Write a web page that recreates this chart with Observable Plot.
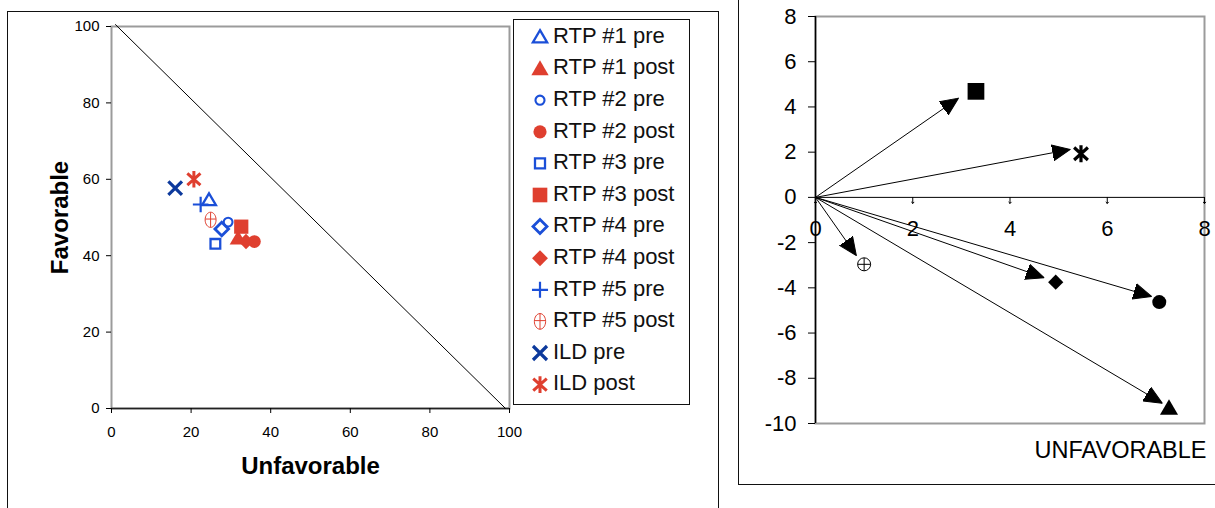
<!DOCTYPE html>
<html><head><meta charset="utf-8">
<script src="https://cdn.jsdelivr.net/npm/d3@7"></script>
<script src="https://cdn.jsdelivr.net/npm/@observablehq/plot@0.6"></script>
<style>
body{margin:0;background:#fff;width:1215px;height:508px;overflow:hidden;position:relative;font-family:"Liberation Sans",Arial,sans-serif;}
.panel{position:absolute;border:1px solid #111;box-sizing:border-box;}
#left{left:7px;top:11px;width:712px;height:520px;}
#right{left:738px;top:-5px;width:490px;height:490px;}
.abs{position:absolute;}
</style></head><body>
<div class="panel" id="left"></div><div class="panel" id="right"></div>
<div id="leftPlot" class="abs" style="left:0;top:0"></div>
<div id="rightPlot" class="abs" style="left:740px;top:0"></div>
<div id="legend" class="abs" style="left:513px;top:19px"></div>
<script>
// ---------- data: left chart (Favorable vs Unfavorable, %) ----------
const seriesNames = ["RTP #1 pre","RTP #1 post","RTP #2 pre","RTP #2 post","RTP #3 pre","RTP #3 post",
                     "RTP #4 pre","RTP #4 post","RTP #5 pre","RTP #5 post","ILD pre","ILD post"];
const unfavorable = [24.5, 31.8, 29.3, 35.9, 26.1, 32.6, 27.7, 33.8, 22.4, 24.9, 16.0, 20.7];
const favorable   = [54.6, 44.6, 48.8, 43.7, 43.1, 47.6, 47.0, 43.7, 53.4, 49.4, 57.7, 60.0];
const axisTicks = [0, 20, 40, 60, 80, 100];
const refLineUnfav = [1, 99];
const refLineFav = [100.5, 0];
const xLabelLeft = "Unfavorable";
const yLabelLeft = "Favorable";

// ---------- data: right chart (shift vectors) ----------
const shiftNames = ["RTP #1","RTP #2","RTP #3","RTP #4","RTP #5","ILD"];
const shiftUnfav = [7.27, 7.07, 3.30, 4.94, 1.00, 5.46];
const shiftFav   = [-9.31, -4.63, 4.69, -3.75, -2.96, 1.93];
const arrowTipUnfav = [7.13, 6.91, 2.94, 4.70, 0.84, 5.24];
const arrowTipFav   = [-9.10, -4.38, 4.39, -3.55, -2.57, 2.12];
const shiftTicksX = [0, 2, 4, 6, 8];
const shiftTicksY = [8, 6, 4, 2, 0, -2, -4, -6, -8, -10];
const xLabelRight = "UNFAVORABLE";

// ---------- symbols ----------
const K = 0.5523;
const rad = s => Math.sqrt(s / Math.PI);
function ell(c, rx, ry) {
  c.moveTo(rx, 0);
  c.bezierCurveTo(rx, ry*K, rx*K, ry, 0, ry);
  c.bezierCurveTo(-rx*K, ry, -rx, ry*K, -rx, 0);
  c.bezierCurveTo(-rx, -ry*K, -rx*K, -ry, 0, -ry);
  c.bezierCurveTo(rx*K, -ry, rx, -ry*K, rx, 0);
  c.closePath();
}
const SYM = {
  triangle: {draw(c, s) { const r = rad(s); c.moveTo(0, -r); c.lineTo(r*1.05, r*0.8); c.lineTo(-r*1.05, r*0.8); c.closePath(); }},
  square:   {draw(c, s) { const r = rad(s)*0.9; c.rect(-r, -r, 2*r, 2*r); }},
  circle:   {draw(c, s) { const r = rad(s); c.moveTo(r, 0); c.arc(0, 0, r, 0, 2*Math.PI); c.closePath(); }},
  diamond:  {draw(c, s) { const r = rad(s); c.moveTo(0, -r); c.lineTo(r, 0); c.lineTo(0, r); c.lineTo(-r, 0); c.closePath(); }},
  plus:     {draw(c, s) { const r = rad(s); c.moveTo(-r, 0); c.lineTo(r, 0); c.moveTo(0, -r); c.lineTo(0, r); }},
  times:    {draw(c, s) { const r = rad(s)*0.85; c.moveTo(-r, -r); c.lineTo(r, r); c.moveTo(-r, r); c.lineTo(r, -r); }},
  asterisk: {draw(c, s) { const r = rad(s); c.moveTo(0, -r); c.lineTo(0, r); c.moveTo(-0.8*r, -0.72*r); c.lineTo(0.8*r, 0.72*r); c.moveTo(-0.8*r, 0.72*r); c.lineTo(0.8*r, -0.72*r); }},
  ellCross: {draw(c, s) { const r = rad(s), rx = r*0.72; ell(c, rx, r); c.moveTo(0, -r); c.lineTo(0, r); c.moveTo(-rx, -0.1*r); c.lineTo(rx, -0.1*r); }},
  circCross:{draw(c, s) { const r = rad(s); c.moveTo(r, 0); c.arc(0, 0, r, 0, 2*Math.PI); c.closePath(); c.moveTo(-r, 0); c.lineTo(r, 0); c.moveTo(0, -r); c.lineTo(0, r); }}
};
const BLUE = "#1b4fd8", RED = "#df3f2f", NAVY = "#0c399c";
const styles = [
  {sym: SYM.triangle, fill: "none", stroke: BLUE, sw: 2.3, r: 6.6},
  {sym: SYM.triangle, fill: RED, stroke: "none", sw: 0, r: 8},
  {sym: SYM.circle, fill: "none", stroke: BLUE, sw: 2.1, r: 4.4},
  {sym: SYM.circle, fill: RED, stroke: "none", sw: 0, r: 6.4},
  {sym: SYM.square, fill: "none", stroke: BLUE, sw: 2.3, r: 5.4},
  {sym: SYM.square, fill: RED, stroke: "none", sw: 0, r: 7.9},
  {sym: SYM.diamond, fill: "none", stroke: BLUE, sw: 2.8, r: 6.8},
  {sym: SYM.diamond, fill: RED, stroke: "none", sw: 0, r: 7.7},
  {sym: SYM.plus, fill: "none", stroke: BLUE, sw: 2.2, r: 7.8},
  {sym: SYM.ellCross, fill: "none", stroke: RED, sw: 1, r: 7.6},
  {sym: SYM.times, fill: "none", stroke: NAVY, sw: 3.2, r: 8},
  {sym: SYM.asterisk, fill: "none", stroke: RED, sw: 3, r: 8.2}
];
const shiftStyles = [
  {sym: SYM.triangle, fill: "black", stroke: "none", sw: 0, r: 8.6},
  {sym: SYM.circle, fill: "black", stroke: "none", sw: 0, r: 7},
  {sym: SYM.square, fill: "black", stroke: "none", sw: 0, r: 9.3},
  {sym: SYM.diamond, fill: "black", stroke: "none", sw: 0, r: 7.6},
  {sym: SYM.circCross, fill: "none", stroke: "black", sw: 1, r: 6.5},
  {sym: SYM.asterisk, fill: "none", stroke: "black", sw: 3.2, r: 8.6}
];
const FONT = '"Liberation Sans", Arial, sans-serif';

function filledArrow(color, context) {
  const doc = (context && context.document) || document;
  const ns = "http://www.w3.org/2000/svg";
  const m = doc.createElementNS(ns, "marker");
  m.setAttribute("viewBox", "-18 -8.5 19 17");
  m.setAttribute("markerWidth", 19);
  m.setAttribute("markerHeight", 17);
  m.setAttribute("markerUnits", "userSpaceOnUse");
  m.setAttribute("refX", 0);
  m.setAttribute("refY", 0);
  m.setAttribute("orient", "auto");
  const p = doc.createElementNS(ns, "path");
  p.setAttribute("d", "M0,0L-18,-8L-18,8Z");
  p.setAttribute("fill", color);
  m.appendChild(p);
  return m;
}

// ---------- left chart ----------
const leftDots = seriesNames.map((n, i) => Plot.dot([i], {
  x: j => unfavorable[j], y: j => favorable[j],
  symbol: styles[i].sym, r: styles[i].r, fill: styles[i].fill,
  stroke: styles[i].stroke, strokeWidth: styles[i].sw
}));
const left = Plot.plot({
  width: 512, height: 508, marginLeft: 111, marginRight: 3, marginTop: 26, marginBottom: 100,
  style: {background: "transparent", fontFamily: FONT, overflow: "visible", maxWidth: "none"},
  x: {domain: [0, 100]}, y: {domain: [0, 100]},
  marks: [
    Plot.frame({stroke: "#9b9b9b", strokeWidth: 2}),
    Plot.ruleY([0], {stroke: "#222", strokeWidth: 1.6}),
    Plot.line([0, 1], {x: k => refLineUnfav[k], y: k => refLineFav[k], stroke: "black", strokeWidth: 1}),
    Plot.axisX({ticks: axisTicks, tickSize: 5, tickPadding: 13, fontSize: 15, label: null}),
    Plot.axisY({ticks: axisTicks, tickSize: 5, tickPadding: 7, fontSize: 15, label: null}),
    Plot.text([xLabelLeft], {frameAnchor: "bottom", dy: 58, lineAnchor: "middle", textAnchor: "middle", fontSize: 24, fontWeight: "bold"}),
    Plot.text([yLabelLeft], {frameAnchor: "left", dx: -51, rotate: -90, lineAnchor: "middle", textAnchor: "middle", fontSize: 24, fontWeight: "bold"}),
    ...leftDots
  ]
});
document.getElementById("leftPlot").appendChild(left);

// ---------- legend ----------
(function () {
  const W = 177, H = 386;
  const svg = d3.select("#legend").append("svg").attr("width", W).attr("height", H)
    .style("font-family", FONT).style("overflow", "visible");
  svg.append("rect").attr("x", 0.5).attr("y", 0.5).attr("width", W - 1).attr("height", H - 1)
    .attr("fill", "white").attr("stroke", "#111");
  seriesNames.forEach((name, i) => {
    const st = styles[i];
    const cy = 16 + 31.6 * i;
    const r = st.r * 1.03;
    svg.append("path").attr("transform", `translate(27,${cy + 2})`)
      .attr("d", d3.symbol().type(st.sym).size(Math.PI * r * r)())
      .attr("fill", st.fill).attr("stroke", st.stroke).attr("stroke-width", st.sw);
    svg.append("text").attr("x", 40).attr("y", cy).attr("dy", "0.35em")
      .attr("font-size", 22).attr("fill", "#111").text(name);
  });
})();

// ---------- right chart ----------
const idx = shiftNames.map((n, i) => i);
const rightDots = shiftNames.map((n, i) => Plot.dot([i], {
  x: j => shiftUnfav[j], y: j => shiftFav[j],
  symbol: shiftStyles[i].sym, r: shiftStyles[i].r, fill: shiftStyles[i].fill,
  stroke: shiftStyles[i].stroke, strokeWidth: shiftStyles[i].sw
}));
const right = Plot.plot({
  width: 475, height: 508, marginLeft: 75, marginRight: 11, marginTop: 16, marginBottom: 85,
  style: {background: "transparent", fontFamily: FONT, overflow: "visible", maxWidth: "none"},
  x: {domain: [0, 8], axis: null}, y: {domain: [-10, 8]},
  marks: [
    Plot.frame({stroke: "#9b9b9b", strokeWidth: 2}),
    Plot.ruleX([0], {stroke: "black", strokeWidth: 1.5}),
    Plot.ruleY([0], {stroke: "black", strokeWidth: 1}),
    Plot.axisY({ticks: shiftTicksY, tickFormat: d => String(d), tickSize: 7, tickPadding: 12, fontSize: 22, label: null}),
    Plot.vector(shiftTicksX, {x: d => d, y: () => 0, length: 6, rotate: 180, anchor: "start", stroke: "black", strokeWidth: 1}),
    Plot.text(shiftTicksX, {x: d => d, y: () => 0, dy: 32, text: d => String(d), fontSize: 22}),
    Plot.text([xLabelRight], {frameAnchor: "bottom-right", dx: 2, dy: 27, lineAnchor: "middle", textAnchor: "end", fontSize: 23.5}),
    Plot.link(idx, {x1: () => 0, y1: () => 0, x2: j => arrowTipUnfav[j], y2: j => arrowTipFav[j],
      stroke: "black", strokeWidth: 1, markerEnd: filledArrow}),
    ...rightDots
  ]
});
document.getElementById("rightPlot").appendChild(right);
</script>
</body></html>
